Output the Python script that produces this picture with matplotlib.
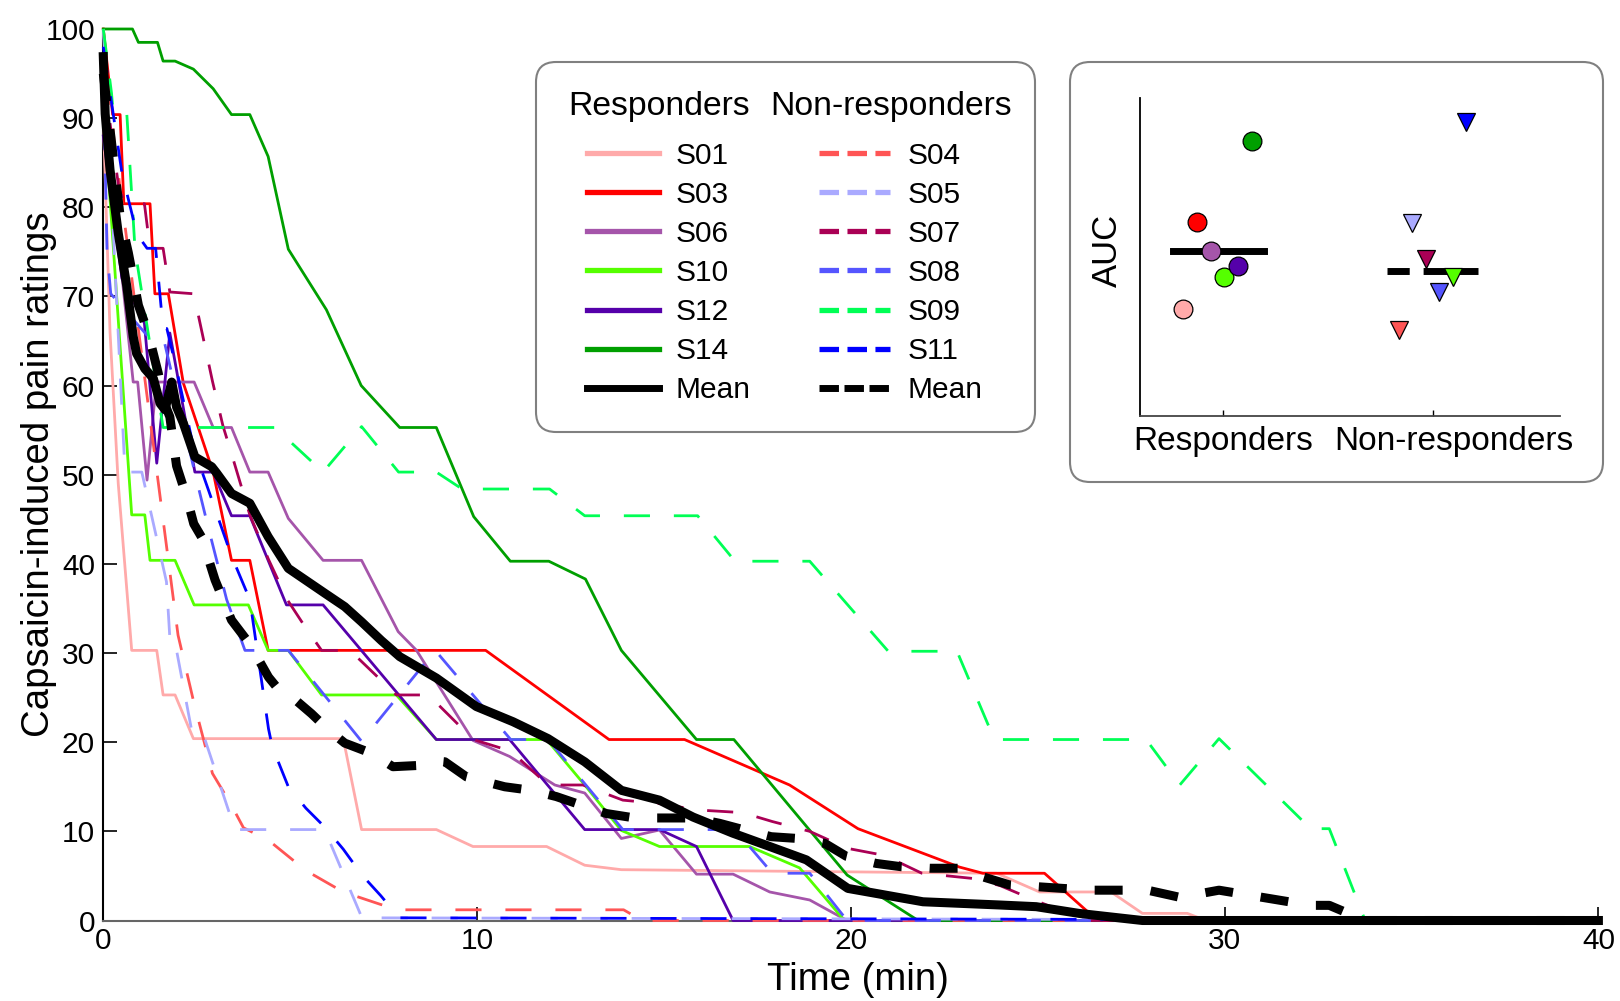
import numpy as np
import matplotlib
matplotlib.use('Agg')
from matplotlib import pyplot as plt
from matplotlib import rc
from matplotlib.patches import FancyBboxPatch
from matplotlib.transforms import ScaledTranslation

rc('font', family=['Liberation Sans', 'DejaVu Sans'])

W, H = 1620, 1001

# ---- pain ratings, responders (time in min, rating 0-100) ----
t_s01 = [0, 0.18, 0.4, 0.76, 1.43, 1.6, 1.92, 2.41, 6.42, 6.91, 8.91, 9.89, 11.86, 12.88, 13.86, 23.9, 25.05, 26.96, 27.8, 29.0, 29.5, 40]
r_s01 = [90, 66, 49, 30.3, 30.3, 25.3, 25.3, 20.4, 20.4, 10.2, 10.2, 8.3, 8.3, 6.2, 5.7, 5.3, 3.2, 3.2, 0.8, 0.8, 0, 0]
t_s03 = [0, 0.25, 0.45, 0.55, 1.25, 1.38, 1.74, 2.14, 2.94, 3.43, 3.92, 4.41, 10.23, 13.53, 15.55, 18.36, 20.19, 22.9, 23.53, 25.18, 26.6, 40]
r_s03 = [100, 90.4, 90.4, 80.4, 80.4, 70.3, 70.3, 60.3, 50.3, 40.4, 40.4, 30.3, 30.3, 20.3, 20.3, 15.2, 10.3, 6.0, 5.3, 5.3, 0, 0]
t_s06 = [0, 0.8, 0.92, 1.17, 1.42, 2.43, 2.94, 3.43, 3.92, 4.41, 4.95, 5.88, 6.91, 7.89, 8.38, 9.89, 10.87, 12.08, 12.88, 13.86, 14.88, 15.87, 16.85, 17.83, 18.9, 19.9, 40]
r_s06 = [92, 60.4, 60.4, 49.4, 60.4, 60.4, 55.3, 55.3, 50.3, 50.3, 45.1, 40.4, 40.4, 32.4, 30.3, 20.2, 18.4, 15.2, 14.3, 9.2, 10.15, 5.2, 5.2, 3.2, 2.3, 0, 0]
t_s10 = [0, 0.4, 0.76, 1.11, 1.25, 1.92, 2.43, 3.88, 4.41, 4.95, 5.84, 7.84, 8.91, 11.86, 12.88, 13.86, 14.88, 17.29, 18.63, 19.83, 40]
r_s10 = [92, 67.4, 45.5, 45.5, 40.4, 40.4, 35.4, 35.4, 30.3, 30.3, 25.3, 25.3, 20.3, 20.3, 15.2, 10.1, 8.3, 8.3, 5.9, 0, 0]
t_s12 = [0, 0.5, 1.1, 1.43, 1.78, 2.45, 2.94, 3.43, 3.92, 4.9, 5.88, 8.91, 10.87, 12.88, 14.88, 15.87, 16.85, 40]
r_s12 = [88, 72, 67, 51.3, 65.9, 50.3, 50.3, 45.4, 45.4, 35.4, 35.4, 20.3, 20.3, 10.2, 10.2, 8.3, 0, 0]
t_s14 = [0, 0.78, 0.94, 1.45, 1.6, 1.92, 2.41, 2.94, 3.43, 3.92, 4.41, 4.95, 5.97, 6.9, 7.93, 8.91, 9.91, 10.89, 11.92, 12.9, 13.86, 15.87, 16.87, 19.9, 21.8, 40]
r_s14 = [100, 100, 98.5, 98.5, 96.4, 96.4, 95.5, 93.3, 90.4, 90.4, 85.7, 75.3, 68.5, 60, 55.3, 55.3, 45.3, 40.3, 40.3, 38.3, 30.3, 20.3, 20.3, 5.1, 0, 0]

# ---- pain ratings, non-responders ----
t_s04 = [0, 0.3, 2.0, 2.42, 2.92, 3.42, 3.75, 4.42, 5.42, 6.42, 7.42, 7.92, 13.92, 14.42, 40]
r_s04 = [100, 87, 32, 24.5, 16.5, 13.0, 10.4, 9.0, 5.6, 3.2, 1.8, 1.2, 1.2, 0, 0]
t_s05 = [0, 0.58, 1.03, 1.69, 1.8, 1.96, 2.41, 2.72, 3.52, 5.92, 6.92, 40]
r_s05 = [100, 50.3, 50.3, 38, 30.3, 30.3, 20.3, 20.3, 10.2, 10.2, 0.3, 0]
t_s07 = [0, 0.42, 0.6, 1.1, 1.25, 1.6, 1.78, 2.42, 2.92, 3.2, 3.42, 3.92, 4.42, 4.92, 5.42, 5.84, 6.6, 7.84, 8.7, 9.9, 10.9, 11.9, 12.83, 13.9, 14.9, 15.9, 17.1, 17.9, 18.9, 19.9, 20.9, 21.9, 23.3, 24.0, 24.9, 26.3, 40]
r_s07 = [95, 82, 80.4, 80.4, 75.4, 75.4, 70.5, 70.3, 60.5, 55.5, 52.5, 45.5, 40.5, 36, 32.8, 30.3, 30.3, 25.3, 25.3, 20.3, 19, 15.2, 15.2, 13.5, 13.1, 12.4, 12.1, 11.1, 10.0, 8.1, 7.3, 5.3, 4.7, 3.9, 2.3, 0, 0]
t_s08 = [0, 0.1, 0.2, 1.2, 1.6, 2.45, 2.76, 3.3, 3.79, 4.95, 6.91, 8.88, 10.9, 11.9, 13.9, 16.9, 17.9, 18.9, 19.9, 40]
r_s08 = [95, 75, 70.3, 65.5, 65.5, 50.2, 44.9, 36, 30.3, 30.3, 20.1, 30.3, 20.3, 20.3, 10.2, 10.2, 5.3, 5.3, 0, 0]
t_s09 = [0, 0.22, 0.27, 0.63, 0.85, 1.6, 4.59, 5.88, 6.91, 7.9, 8.91, 9.6, 11.94, 12.88, 15.9, 16.9, 18.9, 20.0, 21.0, 22.84, 23.84, 27.9, 28.8, 29.85, 32.3, 32.8, 33.76, 40]
r_s09 = [100, 92.8, 90.4, 90.4, 75.2, 55.3, 55.3, 50.3, 55.4, 50.3, 50.3, 48.4, 48.4, 45.4, 45.4, 40.3, 40.3, 35, 30.2, 30.2, 20.3, 20.3, 15.2, 20.4, 10.3, 10.3, 0, 0]
t_s11 = [0, 0.5, 0.9, 1.17, 1.4, 1.6, 1.7, 1.95, 2.42, 3.42, 3.92, 4.42, 4.52, 4.95, 5.42, 5.92, 6.42, 6.92, 7.42, 7.92, 40]
r_s11 = [98, 83.8, 77, 75.4, 75.4, 66.4, 66.4, 62, 53, 41, 36, 21.5, 19.5, 15, 12.6, 10.5, 8, 5.1, 2.8, 0.3, 0]

# ---- group means ----
t_mean_resp = [0, 0.05, 0.18, 0.4, 0.63, 0.8, 0.89, 1.11, 1.34, 1.52, 1.65, 1.83, 1.96, 2.14, 2.45, 2.9, 3.03, 3.43, 3.92, 4.41, 4.95, 5.93, 6.46, 6.91, 7.44, 7.93, 8.91, 9.98, 10.96, 11.9, 12.88, 13.86, 14.88, 15.78, 16.84, 17.83, 18.81, 19.92, 20.86, 21.93, 23.98, 24.96, 26.1, 27.8, 40]
r_mean_resp = [96.9, 90.5, 84.2, 77.1, 71.1, 65.5, 63.6, 61.9, 60.8, 58, 57.3, 60.4, 57.6, 55.8, 52, 50.9, 50.2, 47.9, 46.8, 43.05, 39.5, 36.7, 35.2, 33.5, 31.4, 29.6, 27.2, 24, 22.3, 20.4, 17.8, 14.6, 13.5, 11.6, 9.8, 8.3, 6.8, 3.6, 2.9, 2.1, 1.74, 1.55, 0.8, 0, 0]
t_mean_nonresp = [0, 0.2, 0.45, 0.67, 0.94, 1.2, 1.47, 1.6, 1.78, 1.96, 2.23, 2.42, 2.63, 2.99, 3.43, 3.92, 4.42, 4.77, 5.04, 5.57, 6.02, 6.46, 7.18, 7.75, 8.47, 8.9, 9.14, 9.72, 10.74, 11.45, 12.12, 12.75, 13.46, 14.22, 15.78, 16.49, 17.16, 17.87, 18.58, 19.3, 19.88, 20.68, 21.35, 22.11, 22.9, 23.53, 24.24, 25.67, 26.43, 27.94, 28.8, 29.85, 32.3, 32.8, 33.76, 40]
r_mean_nonresp = [95, 88, 79, 74.9, 69, 65.9, 61.4, 58.4, 56.5, 51, 47.5, 44.5, 43, 38.2, 33.7, 31, 27.3, 25.5, 25.1, 23.2, 21.4, 19.9, 18.75, 17.25, 17.4, 17.9, 17.8, 16.1, 15, 14.6, 13.9, 13, 12, 11.5, 11.5, 10.9, 10.15, 9.4, 9.2, 8.66, 7.2, 6.4, 6.03, 5.86, 5.86, 4.9, 4.0, 3.6, 3.4, 3.4, 2.6, 3.4, 1.7, 1.7, 0, 0]

# ---- inset: area under the curve ----
auc_resp = [33.8, 61.0, 52.0, 43.9, 47.4, 86.6]        # S01 S03 S06 S10 S12 S14
auc_nonresp = [27.2, 60.9, 49.4, 39.1, 43.9, 92.5]     # S04 S05 S07 S08 S09 S11
auc_level = [52.0, 45.6]                               # group lines
group_names = ['Responders', 'Non-responders']

resp = [('S01', t_s01, r_s01, '#FFAAAA'),
        ('S03', t_s03, r_s03, '#FF0000'),
        ('S06', t_s06, r_s06, '#A555AA'),
        ('S10', t_s10, r_s10, '#55FF00'),
        ('S12', t_s12, r_s12, '#5500AA'),
        ('S14', t_s14, r_s14, '#009F00')]
nonresp = [('S04', t_s04, r_s04, '#FF5555'),
           ('S05', t_s05, r_s05, '#AAAAFF'),
           ('S07', t_s07, r_s07, '#AA0055'),
           ('S08', t_s08, r_s08, '#5555FF'),
           ('S09', t_s09, r_s09, '#00FF55'),
           ('S11', t_s11, r_s11, '#0000FF')]
inset_nonresp_colors = ['#FF5555', '#AAAAFF', '#AA0055', '#5555FF', '#55FF00', '#0000FF']


def round_box(x0, y0, x1, y1):
    # pixel box (top-left origin) -> rounded patch in figure fraction
    return FancyBboxPatch((x0 / W, 1 - y1 / H), (x1 - x0) / W, (y1 - y0) / H,
                          boxstyle='round,pad=0,rounding_size=%g' % (20. / W),
                          mutation_aspect=W / float(H), transform=fig.transFigure,
                          fc='white', ec='#808080', lw=1.5)


fig = plt.figure(figsize=(W / 100., H / 100.), dpi=100)
ax = fig.add_axes([103.3 / W, 1 - 920.5 / H, 1495.1 / W, 891.5 / H])

h_resp, h_nonresp = [], []
for name, t, r, c in resp:
    l, = ax.plot(t, r, color=c, lw=2, label=name, zorder=3, clip_on=False)
    h_resp.append(l)
for name, t, r, c in nonresp:
    l, = ax.plot(t, r, color=c, lw=2, dashes=(9.4, 8.6), label=name, zorder=3, clip_on=False)
    h_nonresp.append(l)
m1, = ax.plot(t_mean_nonresp, r_mean_nonresp, color='k', lw=6.5, dashes=(3.1, 3.1),
              label='Mean', zorder=4, clip_on=False)
m0, = ax.plot(t_mean_resp, r_mean_resp, color='k', lw=6.5, label='Mean', zorder=4, clip_on=False)

ax.set_xlim(0, 40)
ax.set_ylim(0, 100)
ax.set_xticks([0, 10, 20, 30, 40])
ax.set_yticks(np.arange(0, 101, 10))
ax.spines['right'].set_visible(False)
ax.spines['top'].set_visible(False)
ax.spines['left'].set_linewidth(1.5)
ax.spines['bottom'].set_linewidth(1.5)
ax.spines['bottom'].set_color('#666666')
ax.tick_params(direction='in', length=10, width=1.2, labelsize=21.5, top=False, right=False)
ax.tick_params(axis='y', pad=6)
ax.tick_params(axis='x', pad=5)
ax.set_xlabel('Time (min)', fontsize=27.6)
ax.set_ylabel('Capsaicin-induced pain ratings', fontsize=27.6)
ax.xaxis.set_label_coords(0.5045, -0.046)
ax.yaxis.set_label_coords(-0.031, 0.501)

# legend with its own rounded frame and column headers
frame = round_box(536, 62, 1035, 432)
frame.set_zorder(4.5)
ax.add_patch(frame)
frame.set_clip_on(False)
handles = h_resp + [m0] + h_nonresp + [m1]
leg = ax.legend(handles, [h.get_label() for h in handles], ncol=2, loc='upper left',
                bbox_to_anchor=(587.3 / W, 1 - 141.8 / H), bbox_transform=fig.transFigure,
                frameon=False, fontsize=21.5, handlelength=2.39, handletextpad=0.57,
                columnspacing=2.29, labelspacing=0.37, borderpad=0, borderaxespad=0)
leg.set_zorder(5)
for i, ll in enumerate(leg.get_lines()):
    if i in (6, 13):
        ll.set_linewidth(5)
    else:
        ll.set_linewidth(3.8)
    if i == 13:
        ll.set_dashes((2.8, 0.8))
    elif i > 6:
        ll.set_dashes((3.7, 1.6))
fig.text(568.3 / W, 1 - 115. / H, group_names[0], fontsize=24.3, va='baseline')
fig.text(770.7 / W, 1 - 115. / H, group_names[1], fontsize=24.3, va='baseline')

# inset with AUC per subject
ibox = round_box(1070, 62, 1603, 482)
ibox.set_zorder(1)
fig.add_artist(ibox)
ax2 = fig.add_axes([1139.6 / W, 1 - 416.4 / H, 420.4 / W, 318.2 / H], zorder=2)
ax2.patch.set_alpha(0)
ax2.set_xlim(0.6, 2.605)
ax2.set_ylim(0, 100)
ax2.plot([0.759, 1.193], [auc_level[0]] * 2, color='k', lw=5, zorder=2)
ax2.plot([1.78, 2.215], [auc_level[1]] * 2, color='k', lw=5, dashes=(3.2, 2.0, 8.1, 2.0), zorder=2)
xr = 1 + np.linspace(-0.193, 0.136, 6)
xn = 2 + np.linspace(-0.164, 0.158, 6)
for x, v, (name, t, r, c) in zip(xr, auc_resp, resp):
    ax2.plot(x, v, 'o', ms=13.5, mfc=c, mec='k', mew=0.9, zorder=3)
for x, v, c in zip(xn, auc_nonresp, inset_nonresp_colors):
    ax2.plot(x, v, 'v', ms=12.5, mfc=c, mec='k', mew=0.9, zorder=3)
ax2.spines['right'].set_visible(False)
ax2.spines['top'].set_visible(False)
ax2.spines['left'].set_linewidth(1.3)
ax2.spines['bottom'].set_linewidth(1.3)
ax2.spines['bottom'].set_color('#444444')
ax2.set_yticks([])
ax2.set_xticks([1, 2])
ax2.set_xticklabels(group_names)
ax2.tick_params(axis='x', direction='in', length=4, width=1, labelsize=24, pad=7)
labs = ax2.get_xticklabels()
labs[1].set_transform(labs[1].get_transform() + ScaledTranslation(0.21, 0, fig.dpi_scale_trans))
ax2.set_ylabel('AUC', fontsize=25)
ax2.yaxis.set_label_coords(-0.037, 0.522)

fig.savefig('out.png', dpi=100)
